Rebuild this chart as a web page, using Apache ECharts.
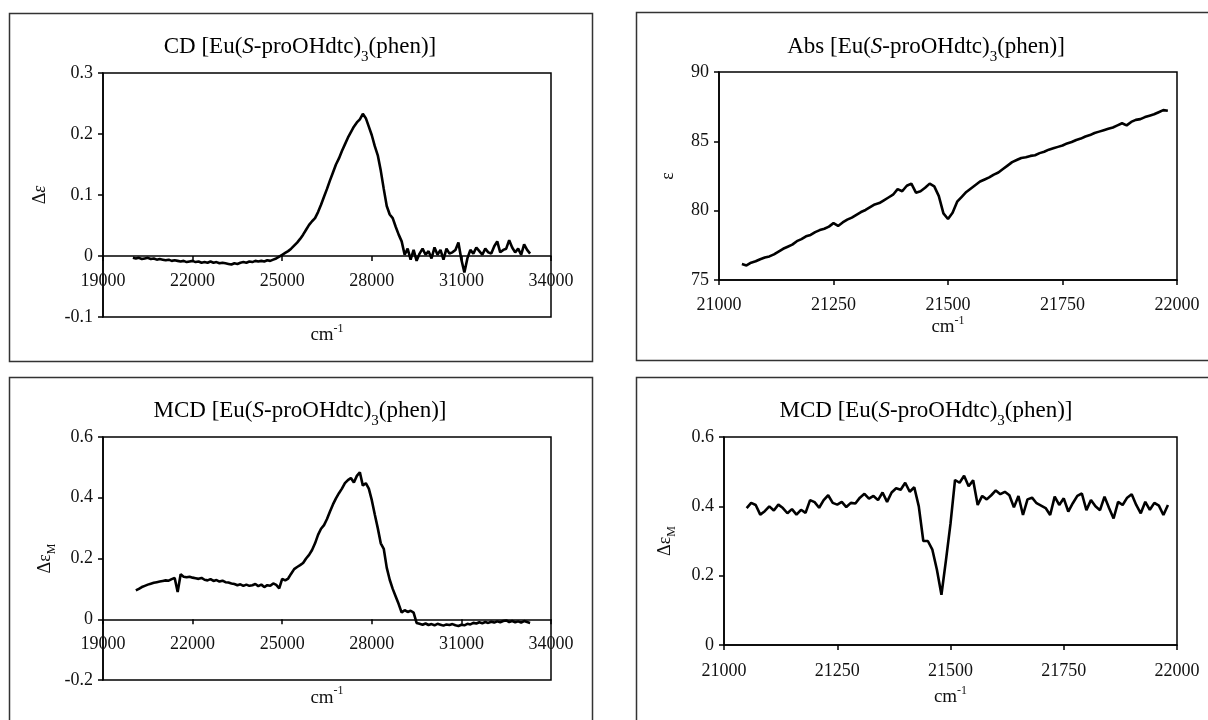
<!DOCTYPE html>
<html>
<head>
<meta charset="utf-8">
<script src="https://cdn.jsdelivr.net/npm/echarts@6.0.0/dist/echarts.min.js"></script>
<style>
  html, body { margin: 0; padding: 0; background: #fff; }
  #chart { width: 1208px; height: 720px; }
</style>
</head>
<body>
<div id="chart"></div>
<script>
// ---- Spectra (wavenumber grid = start + i * step) ----

// CD, broad range
const cdStart = 20000, cdStep = 100;
const cdValues = [
  -0.003,-0.004,-0.003,-0.005,-0.004,-0.003,-0.005,-0.004,-0.006,-0.005,
  -0.006,-0.007,-0.006,-0.008,-0.007,-0.008,-0.009,-0.008,-0.010,-0.009,
  -0.008,-0.010,-0.009,-0.011,-0.010,-0.011,-0.009,-0.011,-0.010,-0.012,
  -0.011,-0.012,-0.013,-0.014,-0.012,-0.013,-0.011,-0.010,-0.011,-0.009,
  -0.010,-0.008,-0.009,-0.008,-0.009,-0.007,-0.008,-0.006,-0.004,-0.001,
  0.002,0.005,0.008,0.012,0.017,0.022,0.028,0.035,0.043,0.051,
  0.057,0.062,0.072,0.084,0.097,0.110,0.124,0.137,0.150,0.160,
  0.172,0.183,0.194,0.203,0.212,0.219,0.224,0.233,0.226,0.212,
  0.198,0.180,0.165,0.140,0.110,0.082,0.068,0.062,0.048,0.035,
  0.024,0.002,0.012,-0.006,0.010,-0.008,0.004,0.012,0.002,0.008,
  -0.004,0.014,0.002,0.010,-0.006,0.012,0.004,0.006,0.010,0.022,
  -0.006,-0.027,-0.004,0.010,0.004,0.014,0.008,0.002,0.012,0.006,
  0.004,0.016,0.024,0.006,0.010,0.012,0.026,0.014,0.006,0.012,
  0.002,0.019,0.010,0.004
];

// MCD, broad range
const mcdWideStart = 20100, mcdWideStep = 100;
const mcdWideValues = [
  0.095,0.100,0.106,0.110,0.114,0.117,0.120,0.122,0.124,0.126,
  0.128,0.127,0.132,0.136,0.090,0.148,0.140,0.138,0.140,0.137,
  0.135,0.133,0.136,0.130,0.128,0.132,0.126,0.129,0.124,0.127,
  0.122,0.121,0.118,0.116,0.112,0.115,0.110,0.114,0.110,0.112,
  0.116,0.109,0.114,0.106,0.112,0.110,0.118,0.113,0.102,0.133,
  0.128,0.134,0.150,0.165,0.172,0.178,0.185,0.200,0.212,0.228,
  0.250,0.278,0.298,0.310,0.330,0.355,0.378,0.398,0.415,0.430,
  0.448,0.458,0.465,0.450,0.472,0.484,0.440,0.448,0.430,0.392,
  0.345,0.300,0.250,0.232,0.170,0.130,0.100,0.075,0.050,0.022,
  0.030,0.024,0.028,0.022,-0.012,-0.015,-0.018,-0.014,-0.019,-0.016,
  -0.020,-0.015,-0.018,-0.021,-0.017,-0.019,-0.016,-0.020,-0.022,-0.018,
  -0.020,-0.015,-0.017,-0.012,-0.014,-0.010,-0.013,-0.009,-0.012,-0.008,
  -0.011,-0.007,-0.010,-0.006,-0.004,-0.009,-0.006,-0.010,-0.007,-0.011,
  -0.006,-0.009,-0.012
];

// Absorption, narrow range
const absStart = 21050, absStep = 10;
const absValues = [
  76.15,76.05,76.25,76.35,76.50,76.62,76.70,76.85,77.05,77.25,
  77.40,77.55,77.80,77.95,78.15,78.25,78.45,78.60,78.70,78.85,
  79.10,78.90,79.15,79.35,79.50,79.70,79.90,80.05,80.25,80.45,
  80.55,80.75,80.95,81.15,81.55,81.40,81.80,81.95,81.30,81.40,
  81.65,81.95,81.75,81.05,79.80,79.40,79.85,80.65,81.00,81.35,
  81.60,81.85,82.10,82.25,82.40,82.60,82.75,83.00,83.25,83.50,
  83.65,83.80,83.85,83.95,84.00,84.15,84.25,84.40,84.50,84.60,
  84.70,84.85,84.95,85.10,85.20,85.35,85.45,85.60,85.70,85.80,
  85.90,86.00,86.15,86.30,86.15,86.40,86.55,86.60,86.75,86.85,
  86.95,87.10,87.25,87.20
];

// MCD, narrow range
const mcdNarrowStart = 21050, mcdNarrowStep = 10;
const mcdNarrowValues = [
  0.395,0.410,0.404,0.376,0.386,0.400,0.388,0.405,0.395,0.380,
  0.392,0.376,0.390,0.381,0.418,0.412,0.396,0.418,0.432,0.410,
  0.405,0.413,0.398,0.410,0.408,0.425,0.436,0.422,0.430,0.418,
  0.440,0.413,0.440,0.452,0.448,0.468,0.442,0.455,0.400,0.300,
  0.300,0.275,0.217,0.145,0.245,0.350,0.476,0.468,0.488,0.458,
  0.475,0.404,0.430,0.420,0.432,0.446,0.435,0.442,0.432,0.397,
  0.430,0.375,0.420,0.425,0.409,0.402,0.395,0.375,0.428,0.404,
  0.423,0.385,0.409,0.430,0.437,0.389,0.418,0.400,0.389,0.428,
  0.395,0.365,0.413,0.404,0.425,0.435,0.404,0.380,0.413,0.390,
  0.410,0.402,0.375,0.404
];

// Axis ranges
const wideX = { min: 19000, max: 34000, interval: 3000 };
const narrowX = { min: 21000, max: 22000, interval: 250 };
const cdY = { min: -0.1, max: 0.3, interval: 0.1 };
const absY = { min: 75, max: 90, interval: 5 };
const mcdWideY = { min: -0.2, max: 0.6, interval: 0.2 };
const mcdNarrowY = { min: 0, max: 0.6, interval: 0.2 };

// Panel titles
const titleCD = '{n|CD [Eu(}{i|S}{n|-proOHdtc)}{s|3}{n|(phen)]}';
const titleAbs = '{n|Abs [Eu(}{i|S}{n|-proOHdtc)}{s|3}{n|(phen)]}';
const titleMCD = '{n|MCD [Eu(}{i|S}{n|-proOHdtc)}{s|3}{n|(phen)]}';

const FONT = "'Liberation Serif','Times New Roman',serif";
const INK = '#000';

// Plot rectangles of the four panels
const rects = [
  { left: 103, top: 73, width: 448, height: 244 },
  { left: 719, top: 72, width: 458, height: 208 },
  { left: 103, top: 437, width: 448, height: 243 },
  { left: 724, top: 437, width: 453, height: 208 }
];

function toPairs(start, step, values) {
  return values.map((v, i) => [start + i * step, v]);
}

const titleRich = {
  n: { fontFamily: FONT, fontSize: 23, color: '#111', lineHeight: 26, verticalAlign: 'top' },
  i: { fontFamily: FONT, fontSize: 23, color: '#111', fontStyle: 'italic', lineHeight: 26, verticalAlign: 'top' },
  s: { fontFamily: FONT, fontSize: 15, color: '#111', lineHeight: 15, padding: [15, 0, 0, 0], verticalAlign: 'top' }
};

const nameRich = {
  n: { fontFamily: FONT, fontSize: 19, color: '#111', lineHeight: 22, verticalAlign: 'bottom' },
  p: { fontFamily: FONT, fontSize: 12, color: '#111', lineHeight: 13, verticalAlign: 'top' },
  e: { fontFamily: FONT, fontSize: 18, color: '#111', fontStyle: 'italic', lineHeight: 20, verticalAlign: 'top' },
  d: { fontFamily: FONT, fontSize: 18, color: '#111', lineHeight: 20, verticalAlign: 'top' },
  s: { fontFamily: FONT, fontSize: 12, color: '#111', lineHeight: 12, padding: [10, 0, 0, 0], verticalAlign: 'top' }
};

// x axis; when the y range spans zero, the axis is lifted onto the zero line
function xAxisOf(gridIndex, range, yRange, nameGap, labelMargin) {
  const h = rects[gridIndex].height;
  const lift = yRange.min < 0 ? -h * (0 - yRange.min) / (yRange.max - yRange.min) : 0;
  return {
    type: 'value', gridIndex, position: 'bottom', offset: lift,
    min: range.min, max: range.max, interval: range.interval,
    name: '{n|cm}{p|-1}', nameLocation: 'middle', nameGap,
    nameTextStyle: { rich: nameRich },
    axisLine: { show: true, onZero: false, lineStyle: { color: INK, width: 1.5 } },
    axisTick: { show: true, inside: false, length: 5, lineStyle: { color: INK, width: 1.5 } },
    axisLabel: { color: '#111', fontFamily: FONT, fontSize: 18, margin: labelMargin,
                 formatter: v => String(v), showMinLabel: true, showMaxLabel: true },
    splitLine: { show: false }
  };
}

function yAxisOf(gridIndex, range, name, nameGap) {
  return {
    type: 'value', gridIndex,
    min: range.min, max: range.max, interval: range.interval,
    name, nameLocation: 'middle', nameGap, nameRotate: 90,
    nameTextStyle: { rich: nameRich },
    axisLine: { show: true, onZero: false, lineStyle: { color: INK, width: 1.5 } },
    axisTick: { show: true, inside: false, length: 5, lineStyle: { color: INK, width: 1.5 } },
    axisLabel: { color: '#111', fontFamily: FONT, fontSize: 18, margin: 10,
                 formatter: v => String(+v.toFixed(4)) },
    splitLine: { show: false }
  };
}

function lineSeries(idx, data) {
  return {
    type: 'line', xAxisIndex: idx, yAxisIndex: idx, data,
    showSymbol: false, symbol: 'none', smooth: false,
    lineStyle: { color: INK, width: 2.6 },
    emphasis: { disabled: true }
  };
}

function panelBox(x, y, w, h) {
  return { type: 'rect', silent: true, shape: { x, y, width: w, height: h },
           style: { fill: 'none', stroke: '#333', lineWidth: 1.5 } };
}

function titleText(x, y, text) {
  return { type: 'text', silent: true, x, y,
           style: { text, rich: titleRich, align: 'center', verticalAlign: 'middle' } };
}

const gridStyle = { show: true, borderColor: INK, borderWidth: 1.5, backgroundColor: 'transparent' };

const option = {
  animation: false,
  backgroundColor: '#fff',
  grid: rects.map(r => Object.assign({}, r, gridStyle)),
  xAxis: [
    xAxisOf(0, wideX, cdY, 67, 16),
    xAxisOf(1, narrowX, absY, 35, 16),
    xAxisOf(2, wideX, mcdWideY, 66, 16),
    xAxisOf(3, narrowX, mcdNarrowY, 40, 17)
  ],
  yAxis: [
    yAxisOf(0, cdY, '{d|Δ}{e|ε}', 52),
    yAxisOf(1, absY, '{d|ε}', 40),
    yAxisOf(2, mcdWideY, '{d|Δε}{s|M}', 47),
    yAxisOf(3, mcdNarrowY, '{d|Δε}{s|M}', 48)
  ],
  series: [
    lineSeries(0, toPairs(cdStart, cdStep, cdValues)),
    lineSeries(1, toPairs(absStart, absStep, absValues)),
    lineSeries(2, toPairs(mcdWideStart, mcdWideStep, mcdWideValues)),
    lineSeries(3, toPairs(mcdNarrowStart, mcdNarrowStep, mcdNarrowValues))
  ],
  graphic: [
    panelBox(9.5, 13.5, 583, 348),
    panelBox(636.5, 12.5, 600, 348),
    panelBox(9.5, 377.5, 583, 400),
    panelBox(636.5, 377.5, 600, 400),
    titleText(300, 48, titleCD),
    titleText(926, 48, titleAbs),
    titleText(300, 412, titleMCD),
    titleText(926, 412, titleMCD)
  ]
};

const chart = echarts.init(document.getElementById('chart'), null, { renderer: 'canvas' });
chart.setOption(option);
</script>
</body>
</html>
